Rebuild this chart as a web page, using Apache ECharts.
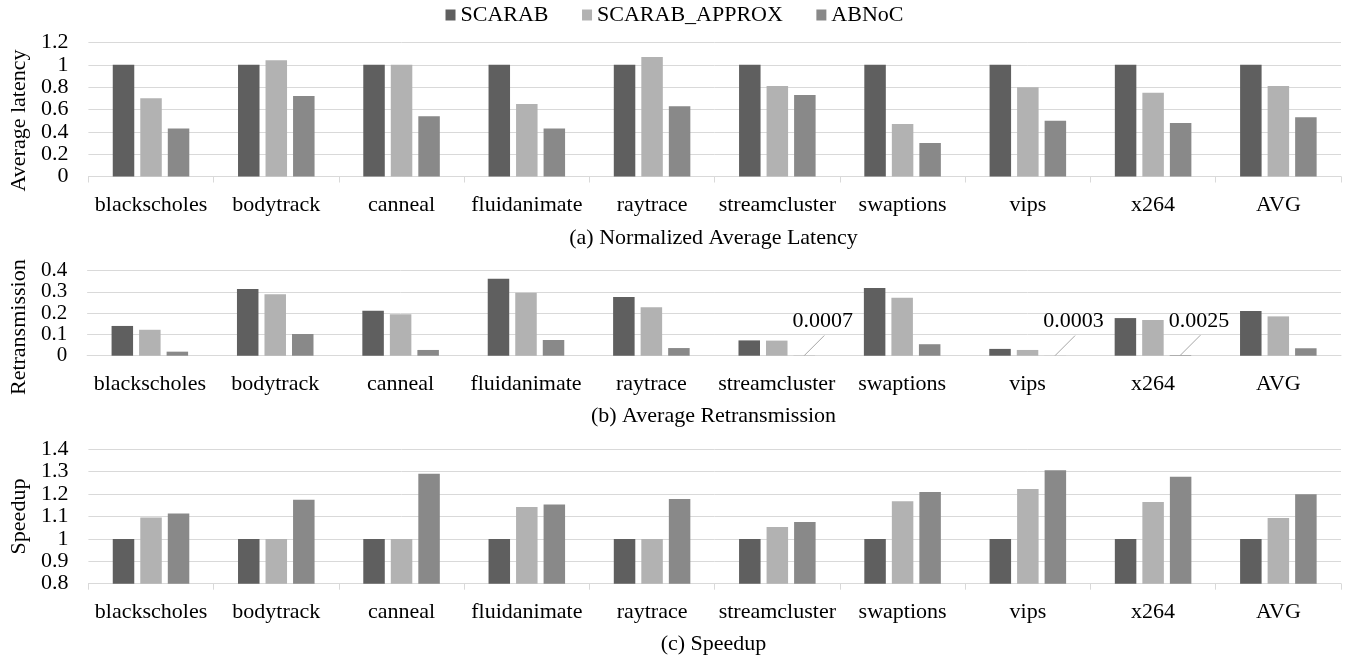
<!DOCTYPE html>
<html>
<head>
<meta charset="utf-8">
<script src="https://cdn.jsdelivr.net/npm/echarts@6/dist/echarts.min.js"></script>
<style>
html,body{margin:0;padding:0;background:#fff;}
#chart{width:1349px;height:658px;}
</style>
</head>
<body>
<div id="chart"></div>
<script>
const categories = ['blackscholes','bodytrack','canneal','fluidanimate','raytrace','streamcluster','swaptions','vips','x264','AVG'];
const seriesNames = ['SCARAB','SCARAB_APPROX','ABNoC'];

// (a) Normalized Average Latency
const latencySCARAB = [1,1,1,1,1,1,1,1,1,1];
const latencyApprox = [0.70,1.04,1.00,0.65,1.07,0.81,0.47,0.80,0.75,0.81];
const latencyABNoC  = [0.43,0.72,0.54,0.43,0.63,0.73,0.30,0.50,0.48,0.53];

// (b) Average Retransmission
const retransSCARAB = [0.14,0.314,0.212,0.362,0.276,0.072,0.319,0.032,0.177,0.21];
const retransApprox = [0.122,0.289,0.195,0.296,0.228,0.071,0.273,0.027,0.168,0.185];
const retransABNoC  = [0.019,0.102,0.027,0.074,0.036,0.0007,0.054,0.0003,0.0025,0.035];
const retransTicks  = [0, 0.1, 0.2, 0.3, 0.4];

// annotations of tiny ABNoC values in (b)
const annCats   = ['streamcluster','vips','x264'];
const annValues = [0.0007,0.0003,0.0025];
const annLabels = ['0.0007','0.0003','0.0025'];

// (c) Speedup
const speedSCARAB = [1,1,1,1,1,1,1,1,1,1];
const speedApprox = [1.096,1.0,1.0,1.142,1.0,1.053,1.168,1.223,1.165,1.093];
const speedABNoC  = [1.113,1.175,1.291,1.154,1.178,1.075,1.209,1.306,1.278,1.199];

const colors = ['#5f5f5f','#b2b2b2','#898989'];
const FONT = 'Liberation Serif';
const gridColor = '#d9d9d9';

const chart = echarts.init(document.getElementById('chart'), null, {renderer:'canvas'});

const grids = [
  {left:86, right:8, top:42.5, height:134},
  {left:86, right:8, top:270.7, height:85},
  {left:86, right:8, top:449.3, height:134.4}
];

function xAx(i, ticks){
  return {
    type:'category', gridIndex:i, data:categories,
    axisLine:{show:true, lineStyle:{color:gridColor, width:1}},
    axisTick:{show:ticks, length:6, lineStyle:{color:gridColor}},
    axisLabel:{color:'#000', fontFamily:FONT, fontSize:22, margin:18, interval:0}
  };
}
function yAx(i, name, min, max, interval, pad, fs, custom){
  const ax = {
    type:'value', gridIndex:i, min:min, max:max, interval:interval,
    name:name, nameLocation:'middle', nameGap:52,
    nameTextStyle:{color:'#000', fontFamily:FONT, fontSize:22, padding:pad},
    axisLine:{show:false}, axisTick:{show:false},
    axisLabel:{color:'#000', fontFamily:FONT, fontSize:fs, margin:20,
               showMinLabel:true, showMaxLabel:true, hideOverlap:false},
    splitLine:{show:true, lineStyle:{color:gridColor, width:1}}
  };
  if (custom) ax.axisLabel.customValues = custom;
  return ax;
}

function bars(gi, arrs){
  return arrs.map((d, k) => ({
    name: seriesNames[k], type:'bar', xAxisIndex:gi, yAxisIndex:gi,
    data:d, barWidth:21.5, barGap:'28%',
    itemStyle:{color:colors[k]},
    emphasis:{disabled:true}, animation:false
  }));
}

const series = [].concat(
  bars(0, [latencySCARAB, latencyApprox, latencyABNoC]),
  bars(1, [retransSCARAB, retransApprox, retransABNoC]),
  bars(2, [speedSCARAB, speedApprox, speedABNoC]),
  [{
    type:'custom', xAxisIndex:1, yAxisIndex:1, animation:false, silent:true,
    data: annCats.map((c, i) => [c, annValues[i]]),
    renderItem: function(params, api){
      const p = api.coord([api.value(0), api.value(1)]);
      const x0 = p[0] + 27.5, y0 = p[1];
      return {
        type:'group',
        children:[
          {type:'line', shape:{x1:x0, y1:y0, x2:x0+20, y2:y0-20},
           style:{stroke:'#a6a6a6', lineWidth:1}},
          {type:'text', x:x0+18.5, y:y0-23,
           style:{text:annLabels[params.dataIndex], textAlign:'center', textVerticalAlign:'bottom',
                  font:'22px "' + FONT + '"', fill:'#000'}}
        ]
      };
    }
  }]
);

const option = {
  backgroundColor:'#fff',
  animation:false,
  color:colors,
  legend:{
    data:seriesNames, top:-1, left:'center',
    itemWidth:10, itemHeight:11, itemGap:33.5,
    icon:'rect',
    textStyle:{color:'#000', fontFamily:FONT, fontSize:22}
  },
  grid:grids,
  xAxis:[xAx(0,true), xAx(1,false), xAx(2,true)],
  yAxis:[
    yAx(0,'Average latency',0,1.2,0.2,[0,22,0,0],22),
    yAx(1,'Retransmission',0,0.4,0.1,[0,28,0,0],21,retransTicks),
    yAx(2,'Speedup',0.8,1.4,0.1,[0,0,0,0],22)
  ],
  series:series,
  graphic:[
    {type:'text', x:713.5, y:238, style:{text:'(a) Normalized Average Latency', textAlign:'center', textVerticalAlign:'middle', font:'22px "'+FONT+'"', fill:'#000'}},
    {type:'text', x:713.5, y:416, style:{text:'(b) Average Retransmission', textAlign:'center', textVerticalAlign:'middle', font:'22px "'+FONT+'"', fill:'#000'}},
    {type:'text', x:713.5, y:644, style:{text:'(c) Speedup', textAlign:'center', textVerticalAlign:'middle', font:'22px "'+FONT+'"', fill:'#000'}}
  ]
};
chart.setOption(option);
</script>
</body>
</html>
